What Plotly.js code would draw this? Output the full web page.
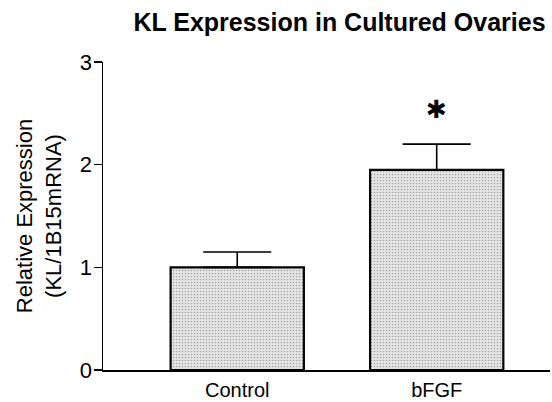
<!DOCTYPE html>
<html>
<head>
<meta charset="utf-8">
<script src="https://cdn.plot.ly/plotly-3.0.1.min.js"></script>
<style>html,body{margin:0;padding:0;background:#fff;}#chart{width:552px;height:402px;}</style>
</head>
<body>
<div id="chart"></div>
<script>
const categories = ['Control', 'bFGF'];
const values = [1.0, 1.95];
const errorsUp = [0.15, 0.25];
const significance = ['', '✱'];
const yTicks = [0, 1, 2, 3];
const yTickLabels = ['0', '1', '2', '3'];

const trace = {
  type: 'bar',
  x: categories,
  y: values,
  width: 0.668,
  marker: {
    color: '#e6e6e6',
    line: {color: '#000', width: 2.2},
    pattern: {shape: '.', fgcolor: '#6a6a6a', size: 3, solidity: 0.25, fillmode: 'overlay'}
  },
  error_y: {
    type: 'data', symmetric: false, array: errorsUp,
    arrayminus: errorsUp.map(() => 0),
    color: '#000', thickness: 1.6, width: 34
  },
  hoverinfo: 'none'
};

const annotations = categories.map((c, i) => ({
  x: c, y: values[i] + errorsUp[i], xref: 'x', yref: 'y',
  text: significance[i], showarrow: false,
  yanchor: 'middle', yshift: 35,
  font: {family: 'DejaVu Sans, sans-serif', size: 25, color: '#000'}
})).filter(a => a.text);

const layout = {
  width: 552, height: 402,
  margin: {l: 103, r: 2, t: 62, b: 32},
  paper_bgcolor: '#fff', plot_bgcolor: '#fff',
  showlegend: false,
  font: {family: 'Liberation Sans, Arial, sans-serif', color: '#000', size: 21},
  title: {
    text: '<b>KL Expression in Cultured Ovaries</b>',
    x: 0.615, xanchor: 'center', y: 0.945, yanchor: 'middle',
    font: {size: 25, color: '#000'}
  },
  xaxis: {
    type: 'category', range: [-0.673, 1.568],
    showline: true, linecolor: '#000', linewidth: 1.5,
    ticks: '', showgrid: false, zeroline: false,
    tickfont: {size: 20}, ticklabelstandoff: 1
  },
  yaxis: {
    range: [0, 3], tickvals: yTicks, ticktext: yTickLabels,
    showline: true, linecolor: '#000', linewidth: 1.5,
    ticks: 'outside', ticklen: 8, tickwidth: 1.5, tickcolor: '#000',
    showgrid: false, zeroline: false,
    tickfont: {size: 22}, ticklabelstandoff: -3,
    title: {text: 'Relative Expression<br>(KL/1B15mRNA)', font: {size: 22}, standoff: 12}
  },
  annotations: annotations,
  bargap: 0
};

Plotly.newPlot('chart', [trace], layout, {displayModeBar: false, staticPlot: true});
</script>
</body>
</html>
